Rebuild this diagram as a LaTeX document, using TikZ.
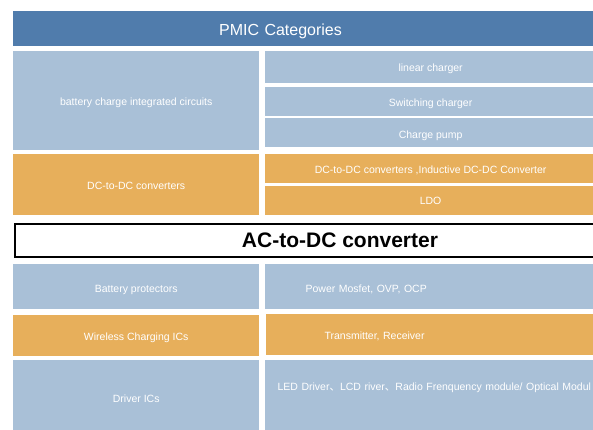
\documentclass[tikz,border=0pt]{standalone}
\usepackage{fontspec}
\setmainfont{Liberation Sans}
\newfontfamily\cjk{Noto Sans CJK SC}
\usepackage{tikz}
\usetikzlibrary{positioning}
\definecolor{pmicblue}{RGB}{80,124,172}
\definecolor{cellblue}{RGB}{169,192,215}
\definecolor{cellorange}{RGB}{231,175,91}

\begin{document}
\begin{tikzpicture}[x=1pt, y=1pt,
    cell/.style={rectangle,inner sep=0pt,text=white,text height=10.4pt,text depth=0pt,font=\fontsize{10.5}{12}\selectfont},
    bluecell/.style={cell,fill=cellblue},
    orangecell/.style={cell,fill=cellorange},
    leftcell/.style={minimum width=246pt},
    rightcell/.style={minimum width=332pt},
    padtext/.style={text width=300pt,align=left,inner xsep=#1},
   ]
    \useasboundingbox (0,0) rectangle (593,-429);
    \clip (0,0) rectangle (593,-429);

    \node (title) [cell,fill=pmicblue,padtext=206pt,text width=200pt,minimum height=35pt,text height=14.3pt,font=\fontsize{16}{19}\selectfont,anchor=north west] at (13,-11) {PMIC Categories};

    \node (battery) [bluecell,leftcell,minimum height=99pt,below=4pt of title.south west,anchor=north west] {battery charge integrated circuits};
    \node (dcdc) [orangecell,leftcell,minimum height=61pt,below=4pt of battery.south west,anchor=north west] {DC-to-DC converters};

    \node (linear) [bluecell,rightcell,minimum height=32pt,right=5pt of battery.north east,anchor=north west] {linear charger};
    \node (switching) [bluecell,rightcell,minimum height=29pt,below=4pt of linear.south west,anchor=north west] {Switching charger};
    \node (pump) [bluecell,rightcell,minimum height=29pt,below=2pt of switching.south west,anchor=north west] {Charge pump};
    \node (inductive) [orangecell,rightcell,minimum height=29pt,right=5pt of dcdc.north east,anchor=north west] {DC-to-DC converters ,Inductive DC-DC Converter};
    \node (ldo) [orangecell,rightcell,minimum height=29pt,text height=7.5pt,below=3pt of inductive.south west,anchor=north west] {LDO};

    \node (acdc) [draw=black,line width=2pt,fill=white,inner sep=0pt,minimum width=650pt,minimum height=33pt,font=\bfseries\fontsize{21}{25}\selectfont,below=8pt of dcdc.south west,anchor=north west,xshift=1pt] {AC-to-DC converter};

    \node (batprot) [bluecell,leftcell,minimum height=45pt,below=6pt of acdc.south west,anchor=north west,xshift=-1pt] {Battery protectors};
    \node (wireless) [orangecell,leftcell,minimum height=41pt,below=5pt of batprot.south west,anchor=north west] {Wireless Charging ICs};
    \node (driver) [bluecell,leftcell,minimum height=75pt,below=4pt of wireless.south west,anchor=north west] {Driver ICs};

    \node (mosfet) [bluecell,padtext=41pt,minimum height=45pt,right=5pt of batprot.north east,anchor=north west] {Power Mosfet, OVP, OCP};
    \node (transmitter) [orangecell,padtext=59pt,minimum height=41pt,right=6pt of wireless.north east,anchor=north west,yshift=1pt] {Transmitter, Receiver};
    \node (led) [bluecell,padtext=13pt,text width=330pt,text height=30pt,text depth=50pt,right=5pt of driver.north east,anchor=north west] {LED Driver{\cjk 、}LCD river{\cjk 、}Radio Frenquency module/ Optical Modul};
  \end{tikzpicture}
\end{document}
